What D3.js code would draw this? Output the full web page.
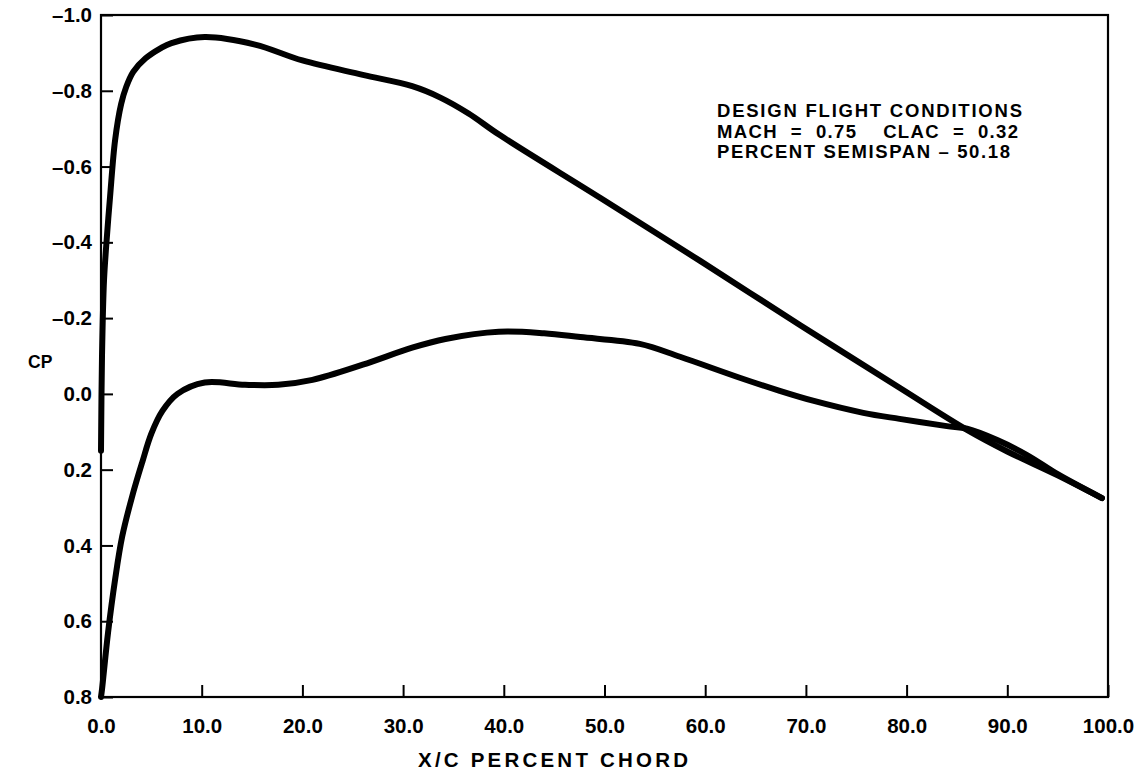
<!DOCTYPE html>
<html>
<head>
<meta charset="utf-8">
<script src="https://cdn.jsdelivr.net/npm/d3@7"></script>
<style>
  body { margin: 0; background: #fff; }
  text { font-family: "Liberation Sans", Arial, sans-serif; font-weight: bold; fill: #000; }
</style>
</head>
<body>
<script>
const svgW = 1146;
const svgH = 771;
const margin = { top: 15, right: 38, bottom: 74, left: 101 };
const w = svgW - margin.left - margin.right;
const h = svgH - margin.top - margin.bottom;

// 数据 — upper surface (x/c, cp)
const upperX  = [0, 0.1, 0.3, 0.6, 0.9, 1.4, 2.0, 2.5, 3.2, 4.4, 5.9, 7.0, 10.3, 15.3, 20.0, 26.0, 30.9, 33.7, 36.5, 39.6, 49.6, 59.5, 69.4, 79.3, 86.0, 90.0, 95.0, 99.4];
const upperCp = [0.15, -0.1, -0.3, -0.42, -0.52, -0.67, -0.765, -0.81, -0.85, -0.885, -0.912, -0.926, -0.942, -0.922, -0.88, -0.842, -0.812, -0.782, -0.74, -0.683, -0.517, -0.351, -0.182, -0.016, 0.095, 0.152, 0.215, 0.275];
// lower surface
const lowerX  = [0, 0.1, 0.7, 1.4, 2.1, 3.1, 4.1, 5.0, 6.1, 7.6, 10.3, 14.3, 17.6, 21.0, 26.0, 30.9, 34.2, 39.5, 44.0, 47.6, 53.5, 57.5, 63.5, 67.4, 70.7, 75.7, 79.3, 84.0, 86.0, 89.0, 92.0, 95.0, 99.4];
const lowerCp = [0.8, 0.78, 0.63, 0.49, 0.377, 0.27, 0.18, 0.105, 0.045, 0.0, -0.03, -0.024, -0.024, -0.037, -0.077, -0.122, -0.145, -0.164, -0.16, -0.15, -0.132, -0.098, -0.042, -0.008, 0.018, 0.05, 0.066, 0.085, 0.092, 0.122, 0.162, 0.212, 0.275];
// 刻度
const xTicks = [0, 10, 20, 30, 40, 50, 60, 70, 80, 90, 100];
const yTicks = [-1.0, -0.8, -0.6, -0.4, -0.2, 0.0, 0.2, 0.4, 0.6, 0.8];
const notes = ['DESIGN FLIGHT CONDITIONS', 'MACH  =  0.75    CLAC  =  0.32', 'PERCENT SEMISPAN \u2013 50.18'];

const svg = d3.select('body')
              .append('svg')
              .attr('width', svgW)
              .attr('height', svgH);

const g = svg.append('g')
              .attr('transform', `translate(${margin.left}, ${margin.top})`);

const xScale = d3.scaleLinear().domain([0, 100]).range([0, w]);
const yScale = d3.scaleLinear().domain([-1.0, 0.8]).range([0, h]);

const fmt = d => (d < -1e-9 ? '\u2013' : '') + Math.abs(d).toFixed(1);

// x坐标轴
const xAxis = d3.axisBottom(xScale)
                .tickValues(xTicks)
                .tickSizeInner(-12)
                .tickSizeOuter(0)
                .tickPadding(21)
                .tickFormat(fmt);
const gx = g.append('g')
  .attr('transform', `translate(0, ${h})`)
  .call(xAxis);
// y坐标轴
const yAxis = d3.axisLeft(yScale)
                .tickValues(yTicks)
                .tickSizeInner(-12)
                .tickSizeOuter(0)
                .tickPadding(9)
                .tickFormat(fmt);
const gy = g.append('g').call(yAxis);

[gx, gy].forEach(a => {
  a.select('.domain').remove();
  a.selectAll('line').attr('stroke', '#000').attr('stroke-width', 2);
  a.selectAll('text')
    .attr('font-family', '"Liberation Sans", Arial, sans-serif')
    .attr('font-weight', 'bold')
    .attr('font-size', 20.5)
    .attr('fill', '#000');
});

// frame
g.append('rect')
  .attr('x', 0).attr('y', 0)
  .attr('width', w).attr('height', h)
  .attr('fill', 'none')
  .attr('stroke', '#000')
  .attr('stroke-width', 2.2);

// 曲线
const line = d3.line()
               .x(d => xScale(d[0]))
               .y(d => yScale(d[1]))
               .curve(d3.curveCatmullRom.alpha(0.5));

[[upperX, upperCp], [lowerX, lowerCp]].forEach(([xs, cps]) => {
  g.append('path')
    .datum(xs.map((x, i) => [x, cps[i]]))
    .attr('d', line)
    .attr('fill', 'none')
    .attr('stroke', '#000')
    .attr('stroke-width', 6)
    .attr('stroke-linecap', 'round')
    .attr('stroke-linejoin', 'round');
});

// 标题
svg.append('text')
  .attr('x', 418).attr('y', 767)
  .attr('font-size', 20.5)
  .attr('textLength', 270)
  .attr('lengthAdjust', 'spacing')
  .text('X/C PERCENT CHORD');

svg.append('text')
  .attr('x', 28).attr('y', 368)
  .attr('font-size', 17.5)
  .text('CP');

// 注释
const noteW = [305, 301, 293];
svg.selectAll('.note')
  .data(notes)
  .enter()
  .append('text')
  .attr('class', 'note')
  .attr('x', 717)
  .attr('y', (d, i) => 117 + i * 20.5)
  .attr('font-size', 18.5)
  .attr('textLength', (d, i) => noteW[i])
  .attr('lengthAdjust', 'spacing')
  .style('white-space', 'pre')
  .text(d => d);
</script>
</body>
</html>
